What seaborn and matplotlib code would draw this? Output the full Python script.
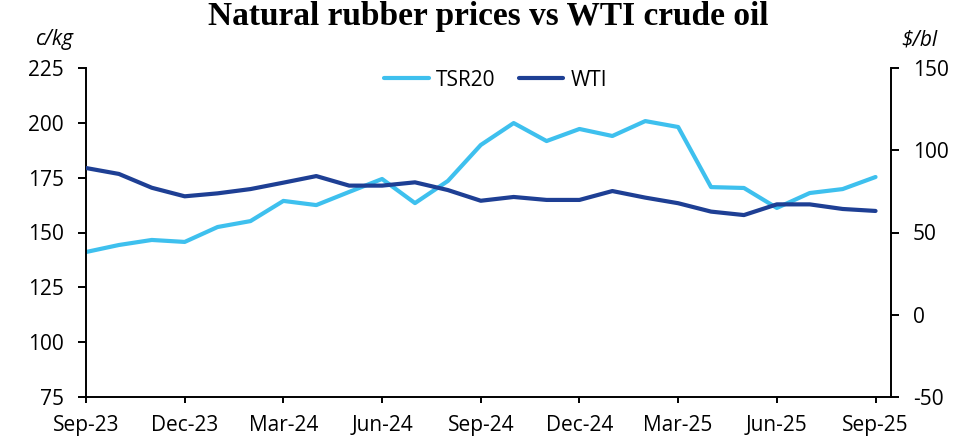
import matplotlib
matplotlib.use("Agg")
import matplotlib.pyplot as plt
import seaborn as sns
import pandas as pd
import numpy as np

months = ["Sep-23", "Oct-23", "Nov-23", "Dec-23", "Jan-24", "Feb-24", "Mar-24", "Apr-24",
          "May-24", "Jun-24", "Jul-24", "Aug-24", "Sep-24", "Oct-24", "Nov-24", "Dec-24",
          "Jan-25", "Feb-25", "Mar-25", "Apr-25", "May-25", "Jun-25", "Jul-25", "Aug-25", "Sep-25"]
tsr20 = [141.1, 144.3, 146.6, 145.7, 152.5, 155.2, 164.4, 162.5, 168.5, 174.4, 163.4, 173.5,
         189.9, 199.9, 191.7, 197.2, 194.0, 200.8, 198.1, 170.7, 170.3, 161.2, 168.0, 169.8, 175.3]
wti = [89.2, 85.6, 77.2, 72.0, 73.8, 76.4, 80.3, 84.3, 78.5, 78.5, 80.5, 75.8,
       69.3, 71.6, 69.8, 69.8, 75.2, 71.2, 67.8, 62.7, 60.6, 67.1, 67.1, 64.3, 63.1]
left_ticks = [75, 100, 125, 150, 175, 200, 225]
right_ticks = [-50, 0, 50, 100, 150]
xtick_labels = ["Sep-23", "Dec-23", "Mar-24", "Jun-24", "Sep-24", "Dec-24", "Mar-25", "Jun-25", "Sep-25"]

df = pd.DataFrame({"idx": np.arange(len(months)), "month": months, "TSR20": tsr20, "WTI": wti})

sns.set_theme(style="white")
plt.rcParams["font.family"] = ["Open Sans", "DejaVu Sans"]
plt.rcParams["axes.unicode_minus"] = False
plt.rcParams["text.color"] = "black"

fig = plt.figure(figsize=(9.71, 4.43), dpi=100)
ax = fig.add_axes([86 / 971, 1 - 397 / 443, (891 - 86) / 971, (397 - 68) / 443])
ax2 = ax.twinx()

c_tsr = "#3EC0EE"
c_wti = "#1E3F94"
sns.lineplot(data=df, x="idx", y="TSR20", ax=ax, color=c_tsr, lw=3.0, label="TSR20", legend=False)
sns.lineplot(data=df, x="idx", y="WTI", ax=ax2, color=c_wti, lw=3.0, label="WTI", legend=False)

ax.set_xlim(0, 24.47)
ax.set_ylim(75, 225)
ax2.set_ylim(-50, 150)
ax.set_yticks(left_ticks)
ax2.set_yticks(right_ticks)
ax.set_xticks(np.arange(0, 25, 3))
ax.set_xticklabels(xtick_labels)
ax.set_xlabel("")
ax.set_ylabel("")
ax2.set_ylabel("")

for a in (ax, ax2):
    a.spines["top"].set_visible(False)
    for s in a.spines.values():
        s.set_color("black")
        s.set_linewidth(1.4)
    a.grid(False)
ax.spines["right"].set_visible(False)
ax2.spines["left"].set_visible(False)
ax2.spines["bottom"].set_visible(False)

ax.tick_params(axis="y", direction="out", length=5.8, width=1.4, color="black",
               labelsize=15, labelcolor="black", pad=10, left=True)
ax.tick_params(axis="x", direction="out", length=4.3, width=1.4, color="black",
               labelsize=15, labelcolor="black", pad=9, bottom=True)
ax2.tick_params(axis="y", direction="out", length=5.8, width=1.4, color="black",
                labelsize=15, labelcolor="black", pad=10, right=True)

h1, l1 = ax.get_legend_handles_labels()
h2, l2 = ax2.get_legend_handles_labels()
leg = ax.legend(h1 + h2, l1 + l2, loc="center", bbox_to_anchor=(0.509, 0.9635), ncol=2,
                frameon=False, fontsize=15, handlelength=2.15, columnspacing=1.1,
                handletextpad=0.35, borderaxespad=0, borderpad=0)

fig.text(488 / 971, 1 - 17 / 443, "Natural rubber prices vs WTI crude oil", ha="center", va="center",
         fontsize=24, fontweight="bold", family=["Liberation Serif", "DejaVu Serif"], color="black")
fig.text(55 / 971, 1 - 40 / 443, "c/kg", ha="center", va="center", fontsize=15, style="italic")
fig.text(919 / 971, 1 - 40 / 443, "$/bl", ha="center", va="center", fontsize=15, style="italic")

fig.savefig("out.png", dpi=100)
